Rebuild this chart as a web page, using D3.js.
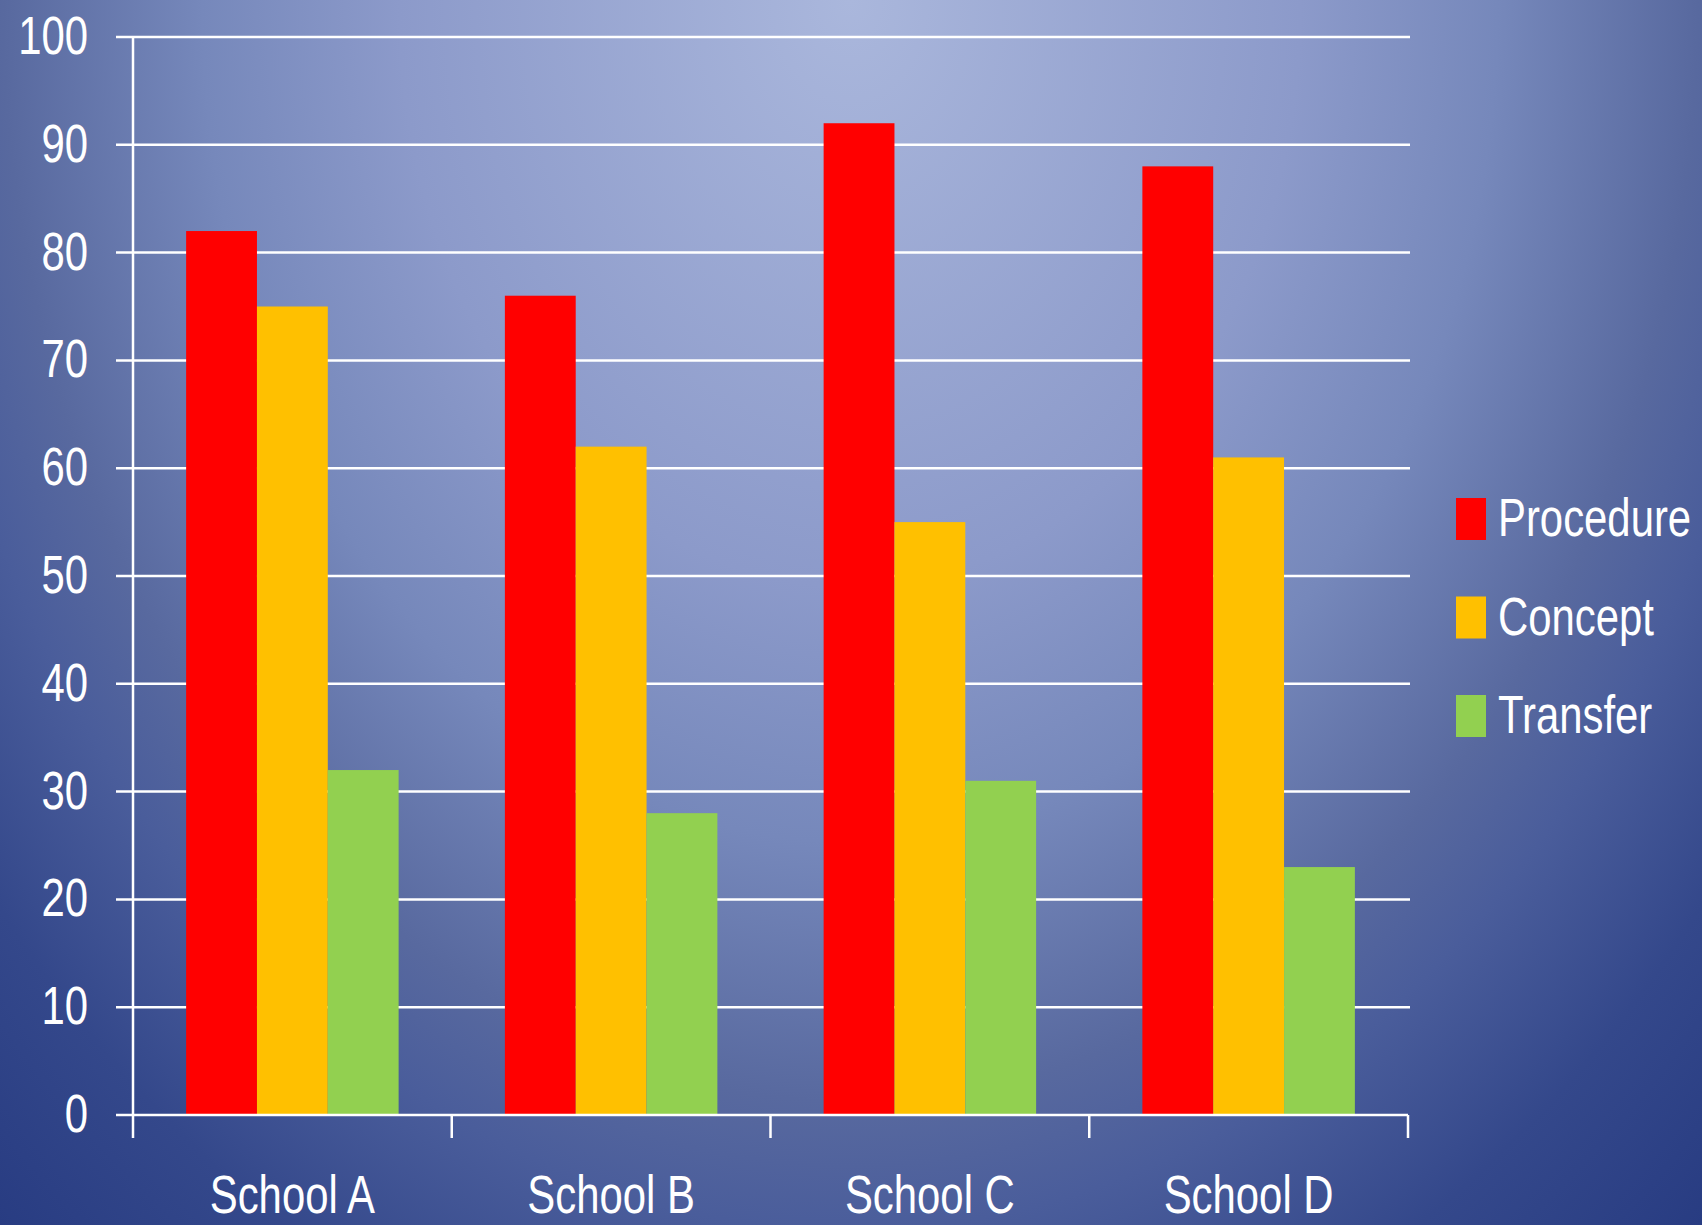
<!DOCTYPE html>
<html>
<head>
<meta charset="utf-8">
<script src="https://cdn.jsdelivr.net/npm/d3@7"></script>
<style>
  html, body { margin: 0; padding: 0; background: #2a3d7c; }
  svg { display: block; }
  text { font-family: "Liberation Sans", Arial, sans-serif; fill: #ffffff; }
</style>
</head>
<body>
<svg id="chart" width="1702" height="1225"></svg>
<script>
const categories = ["School A", "School B", "School C", "School D"];
const seriesNames = ["Procedure", "Concept", "Transfer"];
const procedure = [82, 76, 92, 88];
const concept = [75, 62, 55, 61];
const transfer = [32, 28, 31, 23];
const yTicks = [0, 10, 20, 30, 40, 50, 60, 70, 80, 90, 100];
const colors = ["#ff0000", "#ffc000", "#92d050"];

(function () {
const seriesValues = [procedure, concept, transfer];
const W = 1702, H = 1225;
const SX = 0.79; // horizontal squeeze of the narrow lettering
const svg = d3.select("#chart");

// background gradient (elliptical, light at top centre)
const defs = svg.append("defs");
const rg = defs.append("radialGradient").attr("id", "bg")
  .attr("gradientUnits", "userSpaceOnUse")
  .attr("cx", 850).attr("cy", 0).attr("r", 1270).attr("fx", 850).attr("fy", 0)
  .attr("gradientTransform", "translate(850,0) scale(1,1.3) translate(-850,0)");
[[0, "#aab7dc"], [0.355, "#8c9aca"], [0.51, "#7688bb"], [0.667, "#58699f"], [0.745, "#4a5d9b"], [0.866, "#34488b"], [1, "#283c82"]]
  .forEach(([o, c]) => rg.append("stop").attr("offset", o).attr("stop-color", c));
svg.append("rect").attr("width", W).attr("height", H).attr("fill", "url(#bg)");

const pLeft = 133, pRight = 1408, pTop = 37, pBottom = 1115;
const y = d3.scaleLinear().domain([0, 100]).range([pBottom, pTop]);
const x0 = d3.scaleBand().domain(categories).range([pLeft, pRight]).padding(0);
const x1 = d3.scaleBand().domain(seriesNames).range([0, x0.bandwidth()]).paddingInner(0).paddingOuter(0.75);

// gridlines
svg.append("g").selectAll("line").data(yTicks.filter(d => d > 0)).join("line")
  .attr("x1", 116).attr("x2", 1410)
  .attr("y1", d => y(d)).attr("y2", d => y(d))
  .attr("stroke", "#ffffff").attr("stroke-width", 2.5);

// y labels
svg.append("g").selectAll("text").data(yTicks).join("text")
  .attr("transform", d => `translate(88,${y(d) + 17}) scale(${SX},1)`)
  .attr("text-anchor", "end")
  .attr("font-size", 53)
  .text(d => d);

// bars
const groups = svg.append("g").selectAll("g").data(categories).join("g")
  .attr("transform", d => `translate(${x0(d)},0)`);
groups.selectAll("rect").data((d, i) => seriesNames.map((s, j) => ({ s, v: seriesValues[j][i], j })))
  .join("rect")
  .attr("x", d => x1(d.s))
  .attr("width", x1.bandwidth())
  .attr("y", d => y(d.v))
  .attr("height", d => y(0) - y(d.v))
  .attr("fill", d => colors[d.j]);

// axes lines
svg.append("line").attr("x1", pLeft).attr("x2", pLeft).attr("y1", pTop).attr("y2", 1138)
  .attr("stroke", "#ffffff").attr("stroke-width", 2.5);
svg.append("line").attr("x1", 116).attr("x2", pRight).attr("y1", pBottom).attr("y2", pBottom)
  .attr("stroke", "#ffffff").attr("stroke-width", 2.5);
const bounds = categories.map(c => x0(c)).concat([pRight]);
svg.append("g").selectAll("line").data(bounds.slice(1)).join("line")
  .attr("x1", d => d).attr("x2", d => d).attr("y1", pBottom).attr("y2", 1138)
  .attr("stroke", "#ffffff").attr("stroke-width", 2.5);

// x labels
svg.append("g").selectAll("text").data(categories).join("text")
  .attr("transform", d => `translate(${x0(d) + x0.bandwidth() / 2},1213) scale(${SX},1)`)
  .attr("text-anchor", "middle")
  .attr("font-size", 53)
  .text(d => d);

// legend
const lg = svg.append("g").selectAll("g").data(seriesNames).join("g")
  .attr("transform", (d, i) => `translate(1456, ${498 + i * 98.5})`);
lg.append("rect").attr("width", 30).attr("height", 42).attr("fill", (d, i) => colors[i]);
lg.append("text").attr("transform", `translate(42,38) scale(${SX},1)`).attr("font-size", 53).text(d => d);
})();
</script>
</body>
</html>
